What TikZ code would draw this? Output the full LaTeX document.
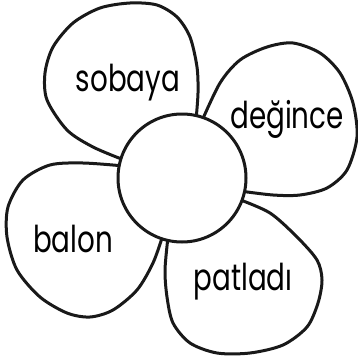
\documentclass[tikz,border=0pt]{standalone}
\usepackage{fontspec}
\setmainfont{Poppins}

\begin{document}
\begin{tikzpicture}[x=1pt, y=-1pt,
		line cap=round, line join=round,
		petalo/.style={draw=black!90, line width=3pt, fill=white},
		parola/.style={anchor=base, inner sep=0pt, xscale=0.75,
				font=\fontsize{37}{42}\selectfont}]

	% ---- riquadro come nell'originale ----
	\useasboundingbox (0,0) rectangle (358,361);

	\coordinate (O) at (182,178);

	% ---- petali (le estremità finiscono sotto il cerchio) ----
	\draw[petalo] plot[smooth] coordinates {(124,160) (93,147) (67,130) (47,100)
			(45,73) (53,47) (73,23) (100,8) (130,3) (157,5) (177,17) (190,37)
			(197,67) (198,93) (196,120)} -- cycle;
	\draw[petalo] plot[smooth] coordinates {(201,123) (220,83) (240,60) (267,47)
			(293,43) (320,53) (340,73) (353,103) (357,137) (347,170) (327,188)
			(300,195) (273,195) (240,191)} -- cycle;
	\draw[petalo] plot[smooth] coordinates {(238,199) (270,213) (297,237) (317,260)
			(322,280) (318,303) (307,327) (283,345) (250,353) (217,353) (190,343)
			(173,323) (167,297) (165,270) (168,237)} -- cycle;
	\draw[petalo] plot[smooth] coordinates {(163,235) (153,263) (137,290) (113,310)
			(90,317) (67,313) (40,297) (17,270) (7,237) (8,207) (23,180) (50,165)
			(83,163) (124,166)} -- cycle;

	% ---- cerchio centrale ----
	\draw[petalo] (O) circle[radius=64];

	% ---- parole ----
	\node[parola] (sobaya)  at (128,91)  {sobaya};
	\node[parola] (degince) at (287,128) {değince};
	\node[parola] (balon)   at (73,252)  {balon};
	\node[parola] (patladi) at (243,290) {patladı};

\end{tikzpicture}
\end{document}
